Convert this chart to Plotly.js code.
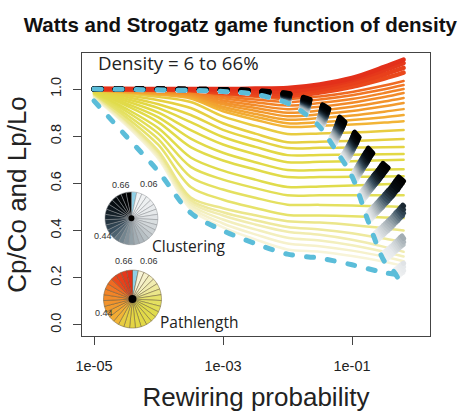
<!DOCTYPE html>
<html><head><meta charset="utf-8">
<script src="https://cdn.plot.ly/plotly-3.0.1.min.js"></script>
<style>
html,body{margin:0;padding:0;background:#fff}
#chart{width:464px;height:412px}
.scatterlayer .js-line{stroke-linecap:round;stroke-linejoin:round}
</style>
</head><body><div id="chart"></div>
<script>
// ---- data ----
const densities = [0.06,0.08,0.10,0.12,0.14,0.16,0.18,0.20,0.22,0.24,0.26,0.28,0.30,0.32,0.34,0.36,0.38,0.40,0.42,0.44,0.46,0.48,0.50,0.52,0.54,0.56,0.58,0.60,0.62,0.64,0.66];
const pieLabels = ['0.66','0.06','0.44'];
const pPath  = [1e-5, 3.16e-5, 1e-4, 3.16e-4, 1e-3, 3.16e-3, 1e-2, 3.16e-2, 0.1, 0.316, 0.631];
const pClust = [1e-5, 1e-3, 3.16e-3, 1e-2, 1.78e-2, 3.16e-2, 5.62e-2, 0.1, 0.178, 0.316, 0.447, 0.631];
// Lp/Lo, one row per density (0.06 ... 0.66)
const pathlengthRatio = [
 [0.950,0.800,0.650,0.475,0.400,0.345,0.300,0.283,0.255,0.222,0.210],
 [0.965,0.846,0.704,0.490,0.414,0.363,0.320,0.310,0.292,0.268,0.250],
 [0.968,0.851,0.711,0.500,0.430,0.384,0.345,0.334,0.315,0.289,0.270],
 [0.971,0.856,0.717,0.510,0.447,0.405,0.370,0.358,0.338,0.310,0.290],
 [0.974,0.861,0.724,0.520,0.464,0.426,0.395,0.382,0.361,0.331,0.310],
 [0.976,0.865,0.731,0.530,0.478,0.444,0.415,0.405,0.389,0.366,0.350],
 [0.978,0.869,0.737,0.540,0.495,0.465,0.440,0.434,0.424,0.410,0.400],
 [0.980,0.881,0.763,0.585,0.531,0.496,0.466,0.464,0.461,0.456,0.453],
 [0.982,0.893,0.787,0.627,0.574,0.539,0.510,0.509,0.506,0.503,0.500],
 [0.984,0.906,0.811,0.670,0.616,0.580,0.550,0.550,0.550,0.550,0.550],
 [0.986,0.917,0.834,0.710,0.654,0.616,0.585,0.587,0.591,0.596,0.600],
 [0.988,0.930,0.859,0.754,0.697,0.659,0.627,0.627,0.628,0.629,0.630],
 [0.989,0.939,0.880,0.790,0.730,0.690,0.657,0.657,0.658,0.659,0.660],
 [0.990,0.949,0.900,0.826,0.765,0.724,0.690,0.692,0.694,0.698,0.700],
 [0.991,0.958,0.919,0.860,0.797,0.755,0.720,0.721,0.722,0.724,0.725],
 [0.992,0.967,0.936,0.890,0.827,0.785,0.750,0.751,0.752,0.753,0.754],
 [0.993,0.975,0.953,0.920,0.855,0.811,0.775,0.777,0.780,0.785,0.788],
 [0.994,0.982,0.967,0.945,0.884,0.844,0.810,0.812,0.816,0.822,0.826],
 [0.995,0.986,0.976,0.960,0.906,0.870,0.840,0.844,0.850,0.858,0.864],
 [0.996,0.988,0.979,0.965,0.916,0.883,0.855,0.860,0.869,0.881,0.890],
 [0.997,0.990,0.982,0.970,0.925,0.895,0.870,0.877,0.888,0.904,0.915],
 [0.997,0.992,0.985,0.975,0.935,0.908,0.885,0.893,0.907,0.927,0.941],
 [0.998,0.994,0.988,0.979,0.943,0.920,0.900,0.909,0.925,0.947,0.962],
 [0.998,0.994,0.990,0.983,0.952,0.932,0.915,0.925,0.942,0.966,0.983],
 [0.999,0.996,0.992,0.987,0.961,0.944,0.930,0.941,0.958,0.983,1.000],
 [0.999,0.997,0.994,0.990,0.970,0.956,0.945,0.956,0.974,0.999,1.017],
 [1.000,0.998,0.996,0.993,0.977,0.967,0.958,0.969,0.988,1.015,1.034],
 [1.000,0.999,0.997,0.995,0.984,0.976,0.970,0.985,1.010,1.045,1.070],
 [1.000,0.999,0.998,0.997,0.989,0.984,0.980,0.997,1.024,1.063,1.090],
 [1.000,1.000,0.999,0.999,0.995,0.992,0.990,1.008,1.038,1.080,1.110],
 [1.000,1.000,1.000,1.000,1.000,1.002,1.005,1.020,1.047,1.094,1.125]
];
// Cp/Co, one row per density (0.06 ... 0.66)
const clusteringRatio = [
 [1,0.990,0.978,0.940,0.900,0.840,0.740,0.630,0.440,0.270,0.225,0.155],
 [1,0.990,0.979,0.941,0.902,0.843,0.745,0.637,0.450,0.284,0.239,0.170],
 [1,0.991,0.979,0.943,0.904,0.847,0.750,0.643,0.461,0.297,0.253,0.185],
 [1,0.991,0.980,0.944,0.907,0.850,0.756,0.650,0.471,0.311,0.267,0.201],
 [1,0.991,0.980,0.946,0.909,0.853,0.761,0.657,0.481,0.325,0.281,0.216],
 [1,0.991,0.981,0.947,0.911,0.857,0.766,0.663,0.492,0.338,0.295,0.231],
 [1,0.992,0.981,0.948,0.913,0.860,0.771,0.670,0.502,0.352,0.309,0.246],
 [1,0.992,0.982,0.950,0.915,0.863,0.776,0.677,0.512,0.366,0.323,0.261],
 [1,0.992,0.982,0.951,0.917,0.867,0.781,0.683,0.523,0.379,0.337,0.276],
 [1,0.992,0.983,0.953,0.920,0.870,0.787,0.690,0.533,0.393,0.351,0.292],
 [1,0.993,0.983,0.954,0.922,0.873,0.792,0.697,0.543,0.407,0.365,0.307],
 [1,0.993,0.984,0.955,0.924,0.877,0.797,0.703,0.554,0.420,0.379,0.322],
 [1,0.993,0.984,0.957,0.926,0.880,0.802,0.710,0.564,0.434,0.393,0.337],
 [1,0.993,0.985,0.958,0.928,0.883,0.807,0.717,0.574,0.448,0.407,0.352],
 [1,0.994,0.985,0.960,0.930,0.887,0.812,0.723,0.585,0.461,0.421,0.367],
 [1,0.994,0.986,0.961,0.933,0.890,0.818,0.730,0.595,0.475,0.435,0.383],
 [1,0.994,0.986,0.962,0.935,0.893,0.823,0.737,0.605,0.489,0.449,0.398],
 [1,0.995,0.987,0.964,0.937,0.897,0.828,0.743,0.616,0.502,0.463,0.413],
 [1,0.995,0.987,0.965,0.939,0.900,0.833,0.750,0.626,0.516,0.477,0.428],
 [1,0.995,0.988,0.967,0.941,0.903,0.838,0.757,0.636,0.530,0.491,0.443],
 [1,0.995,0.988,0.968,0.943,0.907,0.843,0.763,0.647,0.543,0.505,0.458],
 [1,0.996,0.989,0.969,0.946,0.910,0.849,0.770,0.657,0.557,0.519,0.474],
 [1,0.996,0.989,0.971,0.948,0.913,0.854,0.777,0.667,0.571,0.533,0.489],
 [1,0.996,0.990,0.972,0.950,0.917,0.859,0.783,0.678,0.584,0.547,0.504],
 [1,0.996,0.990,0.974,0.952,0.920,0.864,0.790,0.688,0.598,0.561,0.519],
 [1,0.997,0.991,0.975,0.954,0.923,0.869,0.797,0.698,0.612,0.575,0.534],
 [1,0.997,0.991,0.976,0.956,0.927,0.874,0.803,0.709,0.625,0.589,0.549],
 [1,0.997,0.992,0.978,0.959,0.930,0.880,0.810,0.719,0.639,0.603,0.565],
 [1,0.997,0.992,0.979,0.961,0.933,0.885,0.817,0.729,0.653,0.617,0.580],
 [1,0.998,0.993,0.981,0.963,0.937,0.890,0.823,0.740,0.666,0.631,0.595],
 [1,0.998,0.993,0.982,0.965,0.940,0.895,0.830,0.750,0.680,0.645,0.610]
];
const xTickVals = [1e-5, 1e-3, 1e-1];
const xTickText = ['1e-05','1e-03','1e-01'];
const yTickVals = [0, 0.2, 0.4, 0.6, 0.8, 1.0];
const yTickText = ['0.0','0.2','0.4','0.6','0.8','1.0'];

// ---- styles ----
const CYAN = '#5bbdd9';
function hex2rgb(h){return [1,3,5].map(i=>parseInt(h.slice(i,i+2),16));}
function ramp(stops,t){
  if(t<=stops[0][0]) return stops[0][1];
  for(let i=1;i<stops.length;i++){
    if(t<=stops[i][0]+1e-9){
      const a=hex2rgb(stops[i-1][1]), b=hex2rgb(stops[i][1]);
      const f=(t-stops[i-1][0])/(stops[i][0]-stops[i-1][0]);
      return 'rgb('+a.map((v,j)=>Math.round(v+(b[j]-v)*f)).join(',')+')';
    }
  }
  return stops[stops.length-1][1];
}
const n = densities.length;
const pathStops = [[1/30,'#f8f4d8'],[4/30,'#f1ecb0'],[6/30,'#ebe68a'],[7/30,'#e6e26a'],[10/30,'#e0dc4c'],[14/30,'#e2d844'],[17/30,'#e8cc40'],[18/30,'#f2b436'],[21/30,'#f29a2e'],[24/30,'#f28428'],[26/30,'#ef6a22'],[27/30,'#ea481c'],[1,'#e3301a']];
const clustStops = [[1/30,'#f2f4f5'],[6/30,'#e6e9eb'],[10/30,'#ccd2d5'],[14/30,'#a2adb3'],[17/30,'#73858f'],[20/30,'#3a5060'],[23/30,'#1a2832'],[26/30,'#070d12'],[1,'#000000']];
const pathColors = densities.map((d,k)=> k===0 ? CYAN : ramp(pathStops,k/(n-1)));
const clustColors = densities.map((d,k)=> k===0 ? CYAN : ramp(clustStops,k/(n-1)));

const traces = [];
for(let k=1;k<n;k++){
  traces.push({type:'scatter',mode:'lines',x:pPath,y:pathlengthRatio[k],
    line:{color:pathColors[k],width:k>=27?4.5:2.5,shape:'spline',smoothing:0.9},hoverinfo:'skip'});
}
const DASH='7px,14px';
for(let k=1;k<n;k++){
  traces.push({type:'scatter',mode:'lines',x:pClust,y:clusteringRatio[k],
    line:{color:clustColors[k],width:5,dash:DASH,shape:'spline',smoothing:0.9},hoverinfo:'skip'});
}
traces.push({type:'scatter',mode:'lines',x:pClust,y:clusteringRatio[0],
  line:{color:CYAN,width:5,dash:DASH,shape:'spline',smoothing:0.9},hoverinfo:'skip'});
traces.push({type:'scatter',mode:'lines',x:pPath,y:pathlengthRatio[0],
  line:{color:CYAN,width:5,dash:DASH,shape:'spline',smoothing:0.9},hoverinfo:'skip'});

const ones = densities.map(()=>1);
traces.push({type:'pie',values:ones,sort:false,direction:'clockwise',rotation:0,
  textinfo:'none',hoverinfo:'skip',
  marker:{colors:clustColors.map((c,k)=>k===0?'#8fd0e6':c),line:{color:'#8a8f92',width:0.5}},
  domain:{x:[0.066,0.218],y:[0.3216,0.51]}});
traces.push({type:'pie',values:ones,sort:false,direction:'clockwise',rotation:0,
  textinfo:'none',hoverinfo:'skip',
  marker:{colors:pathColors.map((c,k)=>k===0?'#8fd0e6':c),line:{color:'#6a5a3a',width:0.5}},
  domain:{x:[0.0618,0.2284],y:[0.028,0.233]}});

const FONT='Liberation Sans, Arial, sans-serif';
const lblFont={family:FONT,size:9,color:'#333'};
const layout = {
  width:464,height:412,
  margin:{l:82,r:34,t:53,b:76},
  paper_bgcolor:'#fff',plot_bgcolor:'#fff',
  showlegend:false,
  title:{text:'Watts and Strogatz game function of density',
    font:{family:FONT,size:20.5,color:'#111',weight:700},
    xref:'container',x:0.518,xanchor:'center',yref:'container',y:0.939,yanchor:'middle'},
  xaxis:{type:'log',range:[-5.186,0.209],tickmode:'array',tickvals:xTickVals,ticktext:xTickText,
    ticks:'outside',ticklen:8,tickcolor:'#444',showline:true,mirror:true,linecolor:'#444',linewidth:1,
    showgrid:false,zeroline:false,tickfont:{family:FONT,size:14.5,color:'#222'},ticklabelstandoff:9,
    title:{text:'Rewiring probability',font:{family:FONT,size:26,color:'#222'},standoff:17}},
  yaxis:{range:[-0.047,1.153],tickmode:'array',tickvals:yTickVals,ticktext:yTickText,tickangle:-90,
    ticks:'outside',ticklen:8,tickcolor:'#444',showline:true,mirror:true,linecolor:'#444',linewidth:1,
    showgrid:false,zeroline:false,tickfont:{family:FONT,size:14.5,color:'#222'},ticklabelstandoff:6,
    title:{text:'Cp/Co and Lp/Lo',font:{family:FONT,size:26,color:'#222'},standoff:14}},
  annotations:[
    {text:'Density = 6 to 66%',xref:'paper',yref:'paper',x:0.0402,y:0.9647,xanchor:'left',yanchor:'middle',showarrow:false,font:{family:'Open Sans, sans-serif',size:18.7,color:'#222'}},
    {text:'Clustering',xref:'paper',yref:'paper',x:0.195,y:0.318,xanchor:'left',yanchor:'middle',showarrow:false,font:{family:'Open Sans, sans-serif',size:15.5,color:'#222'}},
    {text:'Pathlength',xref:'paper',yref:'paper',x:0.218,y:0.0495,xanchor:'left',yanchor:'middle',showarrow:false,font:{family:'Open Sans, sans-serif',size:15.5,color:'#222'}},
    {text:pieLabels[0],xref:'paper',yref:'paper',x:0.0805,y:0.5336,showarrow:false,font:lblFont},
    {text:pieLabels[1],xref:'paper',yref:'paper',x:0.161,y:0.537,showarrow:false,font:lblFont},
    {text:pieLabels[2],xref:'paper',yref:'paper',x:0.0287,y:0.353,showarrow:false,font:lblFont},
    {text:pieLabels[0],xref:'paper',yref:'paper',x:0.089,y:0.240,showarrow:false,font:lblFont},
    {text:pieLabels[1],xref:'paper',yref:'paper',x:0.161,y:0.240,showarrow:false,font:lblFont},
    {text:pieLabels[2],xref:'paper',yref:'paper',x:0.0316,y:0.0565,showarrow:false,font:lblFont}
  ],
  shapes:[
    {type:'circle',xref:'paper',yref:'paper',xsizemode:'pixel',ysizemode:'pixel',xanchor:0.142,yanchor:0.416,x0:-3,x1:3,y0:-3,y1:3,fillcolor:'#000',line:{width:0},layer:'above'},
    {type:'circle',xref:'paper',yref:'paper',xsizemode:'pixel',ysizemode:'pixel',xanchor:0.145,yanchor:0.1307,x0:-4,x1:4,y0:-4,y1:4,fillcolor:'#000',line:{width:0},layer:'above'}
  ]
};
Plotly.newPlot('chart',traces,layout,{staticPlot:true,displayModeBar:false});
</script>
</body></html>
